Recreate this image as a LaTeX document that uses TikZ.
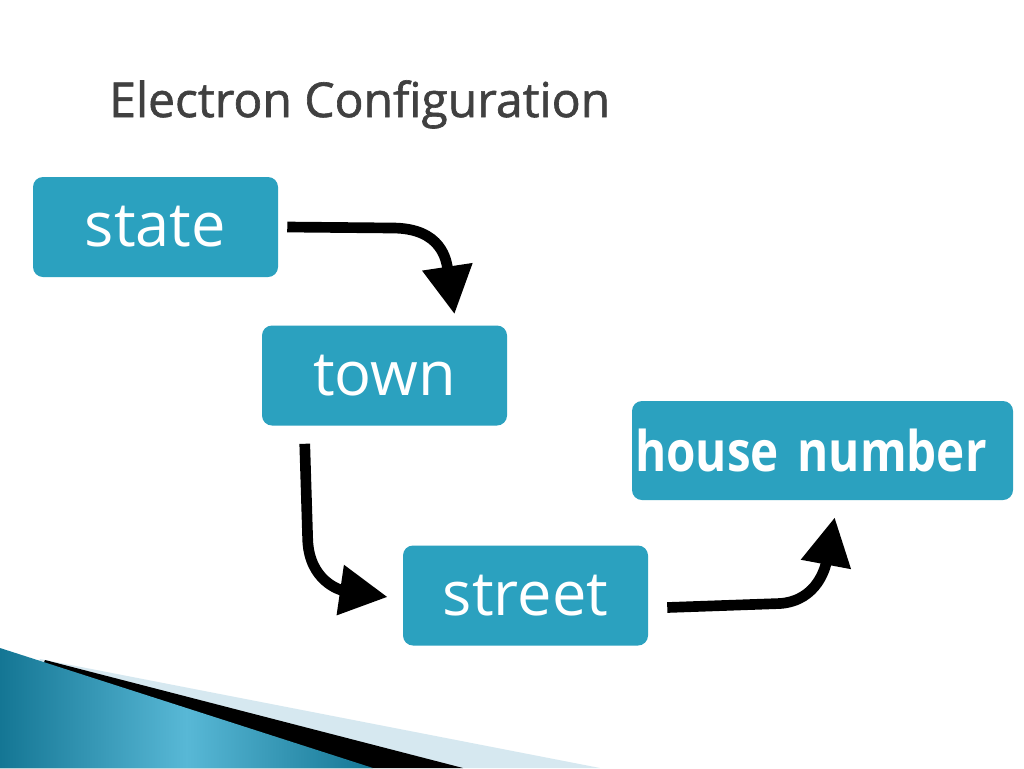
\documentclass[tikz,border=0pt]{standalone}
\usepackage{fontspec}
\setmainfont{Open Sans}
\newfontfamily\housefont{Open Sans}[FakeStretch=0.85]
\newfontfamily\titlefont{Open Sans}[FakeBold=1.3]
\usepackage{tikz}
\usetikzlibrary{arrows.meta, calc}
\definecolor{boxblue}{RGB}{43,161,191}
\definecolor{titlegray}{RGB}{64,64,64}
\definecolor{paleblue}{RGB}{214,232,240}
\definecolor{tealdark}{RGB}{20,118,148}
\definecolor{teallight}{RGB}{88,184,214}
\tikzset{
  tbox/.style  = {rectangle, fill=boxblue, rounded corners=7.5pt, text=white,
                  inner sep=0pt, minimum width=183.75pt, minimum height=75pt,
                  font=\fontsize{46}{55}\selectfont},
  hbox/.style  = {tbox, minimum width=285.75pt, minimum height=74.25pt,
                  text width=281.25pt, align=left, inner xsep=2.25pt,
                  font=\housefont\bfseries\fontsize{42}{50}\selectfont},
  harr/.style  = {-{Triangle[length=36pt, width=36pt]}, line width=8pt},
}
\begin{document}
\begin{tikzpicture}[x=0.75pt, y=-0.75pt]
  \useasboundingbox[fill=white] (0,0) rectangle (1024,768);
  % corner decoration
  \fill[paleblue] (40,659) -- (600,768) -- (0,768) -- cycle;
  \fill[black] (45,660) -- (463,768) -- (0,768) -- cycle;
  \shade[left color=tealdark, right color=tealdark, middle color=teallight]
    (0,648) -- (373,768) -- (0,768) -- cycle;

  \node[anchor=base west, inner sep=0pt, text=titlegray,
        font=\titlefont\fontsize{36}{43}\selectfont] (title) at (109,117) {Electron Configuration};

  \node[tbox] (state)  at (155.5,227)   {state};
  \node[tbox] (town)   at (384.5,375.5) {town};
  \node[tbox] (street) at (525.5,595.5) {street};
  \node[hbox] (house)  at (822.5,450.5) {house number};

  \draw[harr] ($(state.east)+(9,0)$) -- ++(105,1)
    .. controls +(50,0) and +(-8,-53) .. ($(town.north)+(70,-11)$);
  \draw[harr] ($(town.south west)+(43,18)$) -- ++(3,97)
    .. controls +(2,40) and +(-48,-7) .. ($(street.west)+(-15,1.5)$);
  \draw[harr] ($(street.east)+(19,12)$) -- ++(113,-4)
    .. controls +(38,-3) and +(-9,48) .. ($(house.south west)+(203,17)$);
\end{tikzpicture}
\end{document}
